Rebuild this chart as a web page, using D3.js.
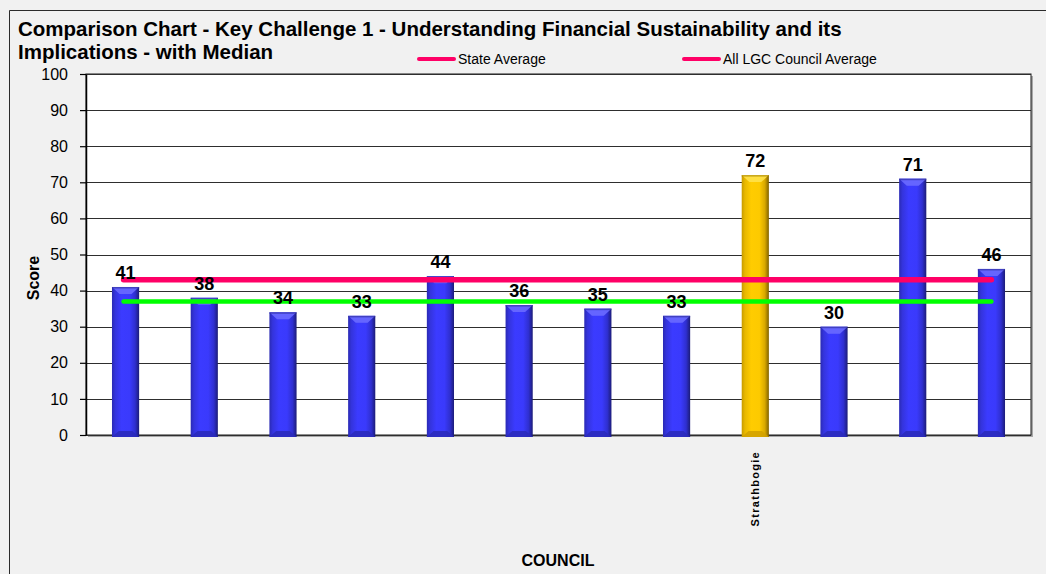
<!DOCTYPE html>
<html>
<head>
<meta charset="utf-8">
<script src="https://cdn.jsdelivr.net/npm/d3@7"></script>
<style>
  html, body { margin: 0; padding: 0; background: #f1f1f1; }
  svg { display: block; font-family: Arial, "Liberation Sans", sans-serif; }
</style>
</head>
<body>
<svg id="chart" width="1046" height="574"></svg>
<script>
// Council scores for Key Challenge 1 (only the highlighted council is named)
const councils = ["", "", "", "", "", "", "", "", "Strathbogie", "", "", ""];
const scores = [41, 38, 34, 33, 44, 36, 35, 33, 72, 30, 71, 46];
const highlighted = "Strathbogie";

// Reference lines
const referenceNames = ["State Average", "All LGC Council Average"];
const referenceValues = [43, 37];

const yTicks = [0, 10, 20, 30, 40, 50, 60, 70, 80, 90, 100];
const titleLines = [
  "Comparison Chart - Key Challenge 1 - Understanding Financial Sustainability and its",
  "Implications - with Median"
];

const svg = d3.select("#chart");
const W = 1046, H = 574;
const plot = { left: 86, right: 1031, top: 74, bottom: 435 };

svg.append("rect").attr("width", W).attr("height", H).attr("fill", "#f1f1f1");

// outer frame (runs off the right and bottom of the page)
svg.append("path")
  .attr("d", `M9.5,${H + 5} L9.5,10.5 L${W + 5},10.5`)
  .attr("fill", "none").attr("stroke", "#2b2b2b").attr("stroke-width", 1);

// scales
const x = d3.scaleBand().domain(d3.range(scores.length))
  .range([plot.left, plot.right]).paddingInner(0.655).paddingOuter(0.33);
const y = d3.scaleLinear().domain([0, 100]).range([plot.bottom, plot.top]);

// gradients for the bevelled bars
const defs = svg.append("defs");
function barGradient(id, stops) {
  const g = defs.append("linearGradient").attr("id", id)
    .attr("x1", "0").attr("x2", "1").attr("y1", "0").attr("y2", "0");
  stops.forEach(([o, c]) => g.append("stop").attr("offset", o).attr("stop-color", c));
}
barGradient("blueBody", [[0, "#2a2ab4"], [0.12, "#3434dc"], [0.35, "#3b3bff"], [0.65, "#3a3afc"], [0.85, "#2f2fd0"], [1, "#1c1c78"]]);
barGradient("goldBody", [[0, "#c79a00"], [0.12, "#e8b800"], [0.35, "#ffcc00"], [0.65, "#fdca00"], [0.85, "#d9a900"], [1, "#806200"]]);
const palette = {
  blue: { body: "url(#blueBody)", top: "#6a6aff", bottom: "#2a2ab8", edge: "#2a2a9a" },
  gold: { body: "url(#goldBody)", top: "#ffe24a", bottom: "#d0a000", edge: "#a07c00" }
};

// plot background with a soft shadow on the right/bottom
svg.append("rect")
  .attr("x", plot.left + 2).attr("y", plot.top + 2)
  .attr("width", plot.right - plot.left).attr("height", plot.bottom - plot.top)
  .attr("fill", "#a8a8a8");
svg.append("rect")
  .attr("x", plot.left).attr("y", plot.top)
  .attr("width", plot.right - plot.left).attr("height", plot.bottom - plot.top)
  .attr("fill", "#ffffff").attr("stroke", "#1a1a1a").attr("stroke-width", 1);

// gridlines
svg.append("g").selectAll("line").data(yTicks).join("line")
  .attr("x1", plot.left).attr("x2", plot.right)
  .attr("y1", d => Math.round(y(d)) + 0.5).attr("y2", d => Math.round(y(d)) + 0.5)
  .attr("stroke", "#2e2e2e").attr("stroke-width", 1.2);

// y axis
const yAxis = svg.append("g")
  .attr("transform", `translate(${plot.left},0)`)
  .call(d3.axisLeft(y).tickValues(yTicks).tickSize(6).tickPadding(12).tickSizeOuter(0));
yAxis.select(".domain").attr("stroke", "#000").attr("stroke-width", 1.5);
yAxis.selectAll(".tick line").attr("stroke", "#000").attr("stroke-width", 1.2);
yAxis.selectAll(".tick text").attr("font-size", 16).attr("fill", "#000")
  .attr("font-family", "Arial, 'Liberation Sans', sans-serif");

// bars
const bars = svg.append("g").selectAll("g").data(scores).join("g");
bars.each(function (v, i) {
  const g = d3.select(this);
  const p = councils[i] === highlighted ? palette.gold : palette.blue;
  const bx = x(i), bw = x.bandwidth();
  const top = y(v), base = y(0) + 2;
  const bev = 7;
  g.append("rect").attr("x", bx).attr("y", top).attr("width", bw).attr("height", base - top)
    .attr("fill", p.body);
  // top bevel
  g.append("path")
    .attr("d", `M${bx},${top} L${bx + bw},${top} L${bx + bw - bw * 0.28},${top + bev} L${bx + bw * 0.28},${top + bev} Z`)
    .attr("fill", p.top).attr("opacity", 0.9);
  g.append("rect").attr("x", bx).attr("y", top).attr("width", bw).attr("height", 1.5)
    .attr("fill", p.edge).attr("opacity", 0.6);
  // bottom bevel
  g.append("path")
    .attr("d", `M${bx},${base} L${bx + bw},${base} L${bx + bw - bw * 0.25},${base - 6} L${bx + bw * 0.25},${base - 6} Z`)
    .attr("fill", p.bottom).attr("opacity", 0.85);
});

// reference lines
const refColors = ["#ff0066", "#00ff00"];
const refWidths = [5.5, 4.5];
referenceValues.forEach((v, k) => {
  svg.append("line")
    .attr("x1", x(0) + x.bandwidth() / 2 - 2).attr("x2", x(scores.length - 1) + x.bandwidth() / 2)
    .attr("y1", y(v)).attr("y2", y(v))
    .attr("stroke", refColors[k]).attr("stroke-width", refWidths[k])
    .attr("stroke-linecap", "round");
});

// value labels
svg.append("g").selectAll("text").data(scores).join("text")
  .attr("x", (d, i) => x(i) + x.bandwidth() / 2)
  .attr("y", d => y(d) - 8)
  .attr("text-anchor", "middle")
  .attr("font-size", 18).attr("font-weight", "bold").attr("fill", "#000")
  .text(d => d);

// category labels (rotated)
svg.append("g").selectAll("text").data(councils).join("text")
  .attr("transform", (d, i) => `translate(${x(i) + x.bandwidth() / 2 + 4},451) rotate(-90)`)
  .attr("text-anchor", "end")
  .attr("font-size", 11).attr("font-weight", "bold").attr("letter-spacing", 1.3)
  .attr("fill", "#000")
  .text(d => d);

// titles
svg.append("g").selectAll("text").data(titleLines).join("text")
  .attr("x", 18).attr("y", (d, i) => 36 + i * 23)
  .attr("font-size", 20.5).attr("font-weight", "bold").attr("fill", "#000")
  .text(d => d);

svg.append("text")
  .attr("transform", "translate(39,278) rotate(-90)")
  .attr("text-anchor", "middle")
  .attr("font-size", 16).attr("font-weight", "bold").text("Score");

svg.append("text")
  .attr("x", 558).attr("y", 566).attr("text-anchor", "middle")
  .attr("font-size", 16).attr("font-weight", "bold").text("COUNCIL");

// legend (both entries use the pink swatch)
const legendX = [418, 683];
const legend = svg.append("g").selectAll("g").data(referenceNames).join("g")
  .attr("transform", (d, i) => `translate(${legendX[i]},59)`);
legend.append("line").attr("x1", 1).attr("x2", 36).attr("y1", 0).attr("y2", 0)
  .attr("stroke", "#ff0066").attr("stroke-width", 4).attr("stroke-linecap", "round");
legend.append("text").attr("x", 40).attr("y", 5)
  .attr("font-size", 14).attr("fill", "#000")
  .text(d => d);
</script>
</body>
</html>
